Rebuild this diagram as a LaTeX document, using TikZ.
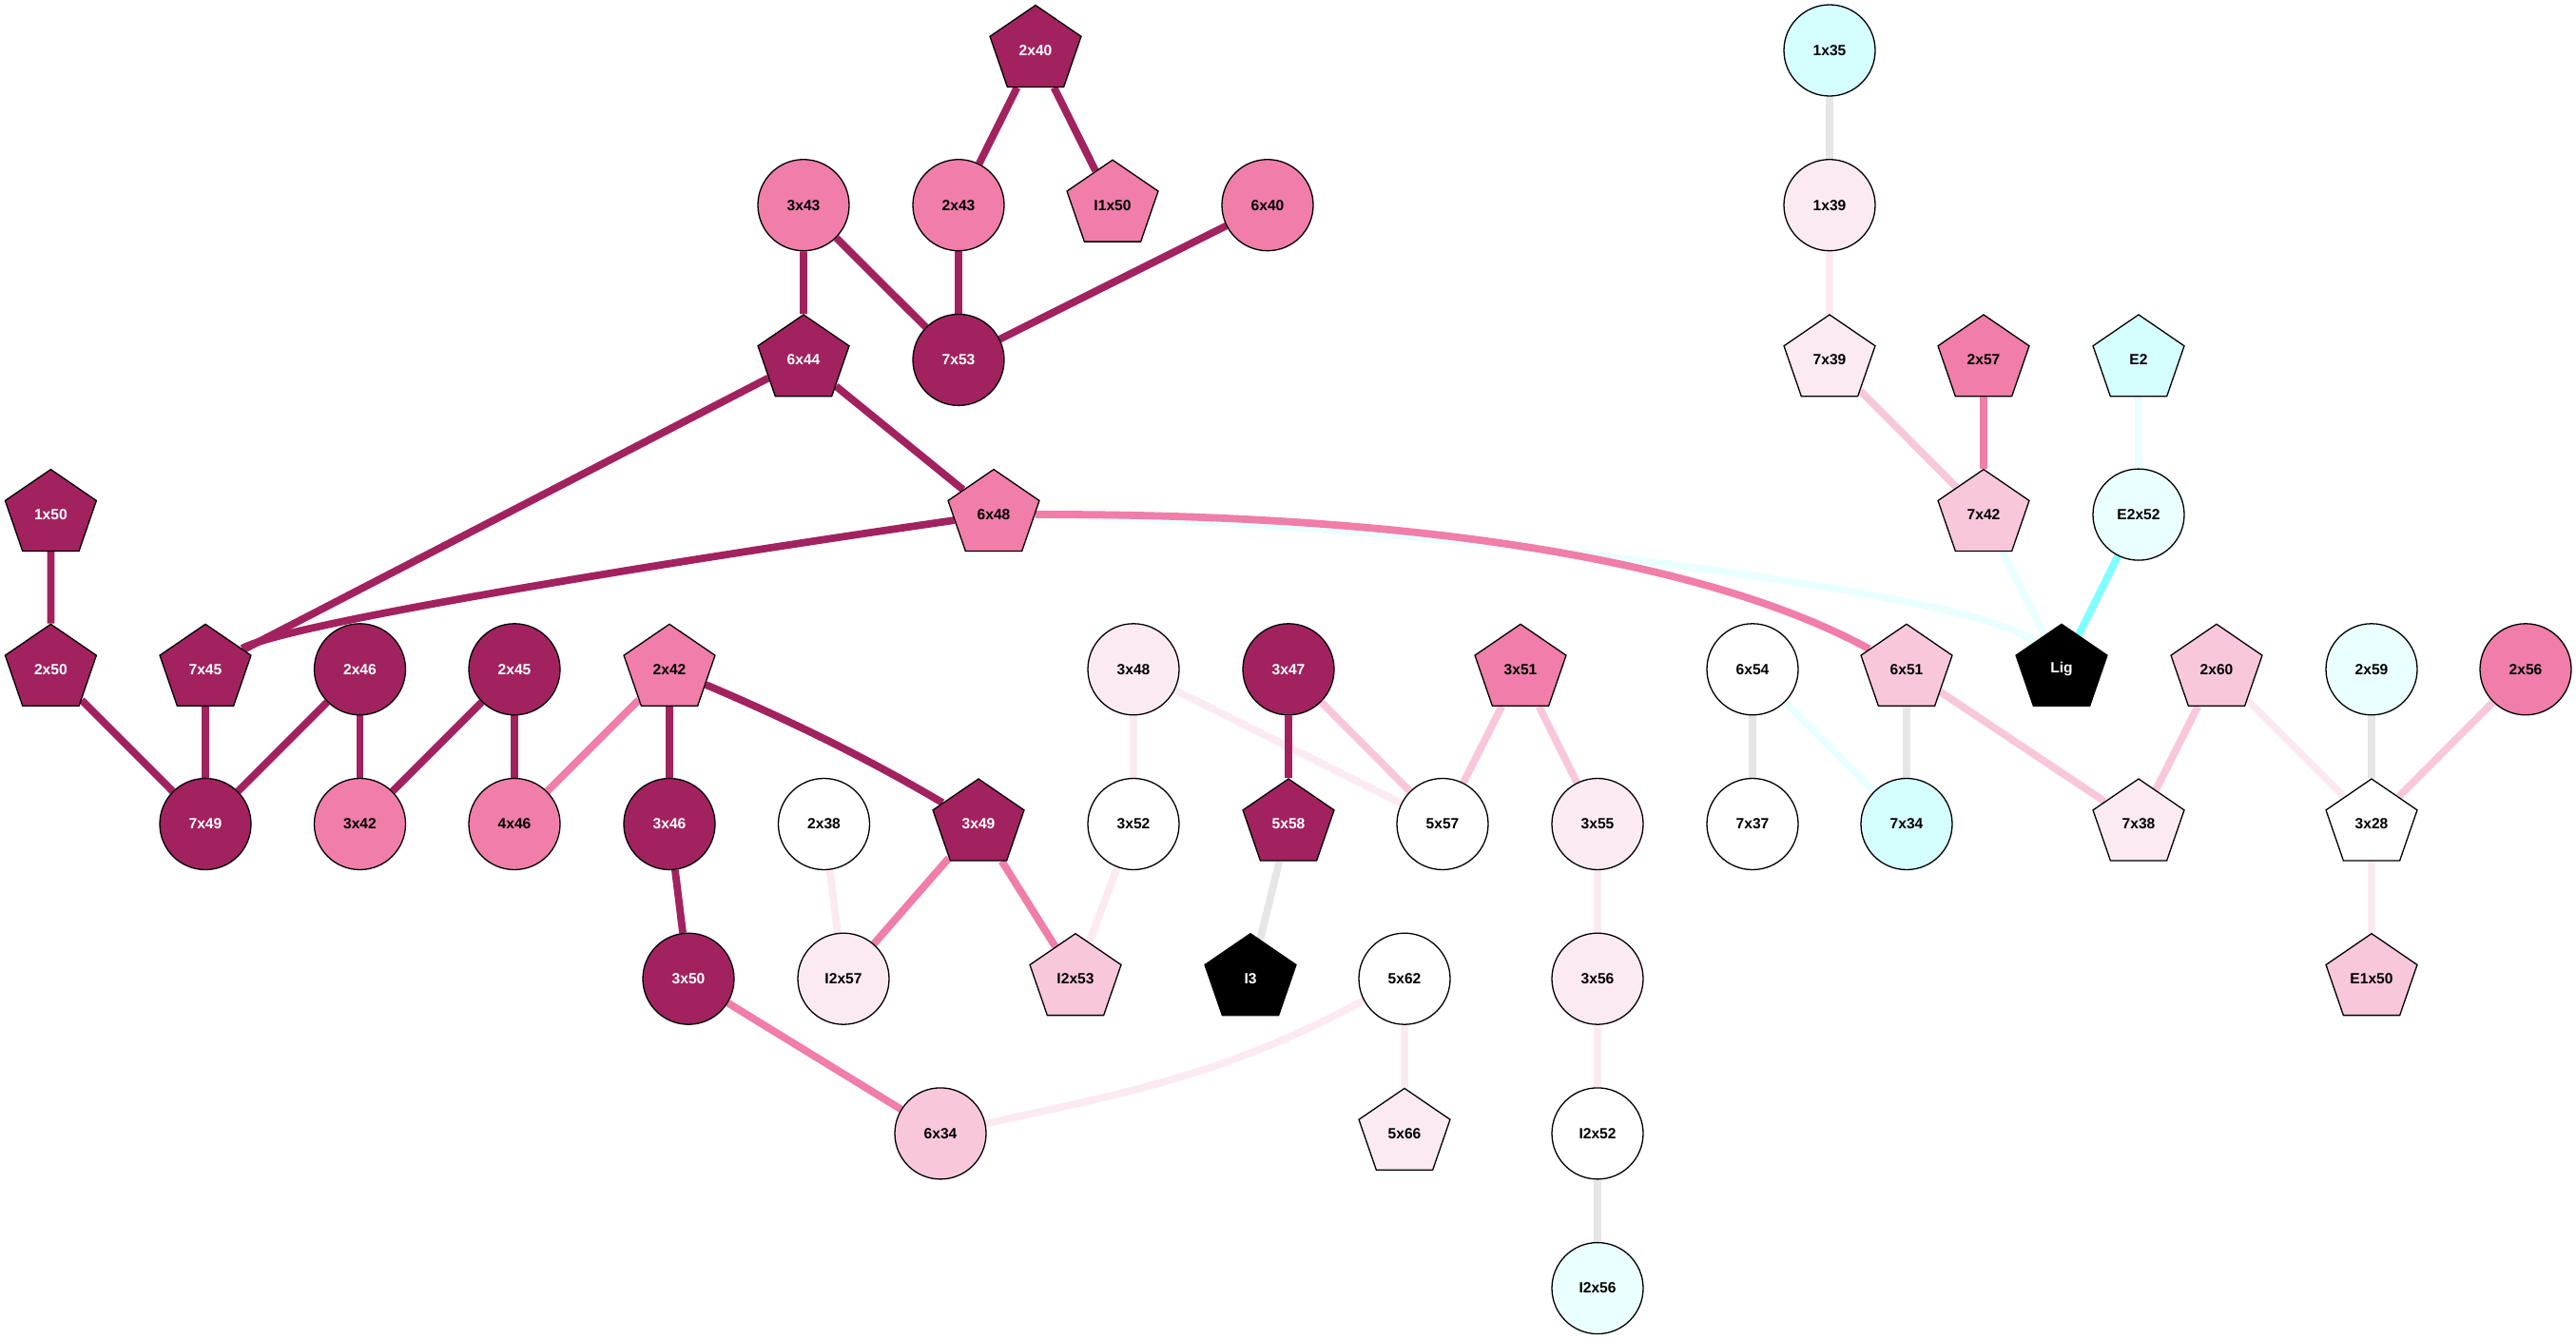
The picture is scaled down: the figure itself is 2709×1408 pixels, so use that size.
\documentclass[tikz,border=0pt]{standalone}
\usepackage{fontspec}
\setmainfont{Liberation Sans}
\usetikzlibrary{shapes.geometric,backgrounds}
\definecolor{cM}{HTML}{A2225F}
\definecolor{cP}{HTML}{F07DAA}
\definecolor{cLP}{HTML}{F9C7DC}
\definecolor{cVLP}{HTML}{FCEAF2}
\definecolor{cC}{HTML}{D5FFFF}
\definecolor{cVLC}{HTML}{EAFFFF}
\definecolor{cBC}{HTML}{80FFFF}
\definecolor{cG}{HTML}{E6E6E6}
\newcommand{\pentxt}[1]{\scalebox{0.9416}[1]{#1}}
\begin{document}
\begin{tikzpicture}[x=1pt,y=-1pt,
  base/.style={draw=black, line width=1.3pt, inner sep=0pt, font=\fontsize{15.6}{18}\selectfont\bfseries},
  circ/.style={base, circle, minimum size=96pt},
  pent/.style={base, regular polygon, regular polygon sides=5, minimum size=95pt, xscale=1.062, transform shape},
  fM/.style={fill=cM, text=white},
  fP/.style={fill=cP, text=black},
  fLP/.style={fill=cLP, text=black},
  fVLP/.style={fill=cVLP, text=black},
  fW/.style={fill=white, text=black},
  fC/.style={fill=cC, text=black},
  fVLC/.style={fill=cVLC, text=black},
  fB/.style={fill=black, text=white},
  e/.style={line width=7.8pt},
  eM/.style={e, draw=cM},
  eP/.style={e, draw=cP},
  eLP/.style={e, draw=cLP},
  eVLP/.style={e, draw=cVLP},
  eG/.style={e, draw=cG},
  eBC/.style={e, draw=cBC},
  eVLC/.style={e, draw=cVLC},
]
\useasboundingbox (0,0) rectangle (2709,1408);
% row 0
\node[pent,fM] (n2x40) at (1089,53) {\pentxt{2x40}};
\node[circ,fC] (n1x35) at (1924,53) {1x35};
% row 1
\node[circ,fP] (n3x43) at (845,215.7) {3x43};
\node[circ,fP] (n2x43) at (1008,215.7) {2x43};
\node[pent,fP] (nI1x50) at (1170,215.7) {\pentxt{I1x50}};
\node[circ,fP] (n6x40) at (1333,215.7) {6x40};
\node[circ,fVLP] (n1x39) at (1924,215.7) {1x39};
% row 2
\node[pent,fM] (n6x44) at (845,378.4) {\pentxt{6x44}};
\node[circ,fM] (n7x53) at (1008,378.4) {7x53};
\node[pent,fVLP] (n7x39) at (1924,378.4) {\pentxt{7x39}};
\node[pent,fP] (n2x57) at (2086,378.4) {\pentxt{2x57}};
\node[pent,fC] (nE2) at (2249,378.4) {\pentxt{E2}};
% row 3
\node[pent,fM] (n1x50) at (53.4,541.1) {\pentxt{1x50}};
\node[pent,fP] (n6x48) at (1045,541.1) {\pentxt{6x48}};
\node[pent,fLP] (n7x42) at (2086,541.1) {\pentxt{7x42}};
\node[circ,fVLC] (nE2x52) at (2249,541.1) {E2x52};
% row 4
\node[pent,fM] (n2x50) at (53.4,703.8) {\pentxt{2x50}};
\node[pent,fM] (n7x45) at (216,703.8) {\pentxt{7x45}};
\node[circ,fM] (n2x46) at (378.5,703.8) {2x46};
\node[circ,fM] (n2x45) at (541,703.8) {2x45};
\node[pent,fP] (n2x42) at (704,703.8) {\pentxt{2x42}};
\node[circ,fVLP] (n3x48) at (1192,703.8) {3x48};
\node[circ,fM] (n3x47) at (1355,703.8) {3x47};
\node[pent,fP] (n3x51) at (1599,703.8) {\pentxt{3x51}};
\node[circ,fW] (n6x54) at (1843,703.8) {6x54};
\node[pent,fLP] (n6x51) at (2005,703.8) {\pentxt{6x51}};
\node[pent,fB] (nLig) at (2168,703.8) {\pentxt{Lig}};
\node[pent,fLP] (n2x60) at (2331,703.8) {\pentxt{2x60}};
\node[circ,fVLC] (n2x59) at (2494,703.8) {2x59};
\node[circ,fP] (n2x56) at (2656,703.8) {2x56};
% row 5
\node[circ,fM] (n7x49) at (216,866.5) {7x49};
\node[circ,fP] (n3x42) at (378.5,866.5) {3x42};
\node[circ,fP] (n4x46) at (541,866.5) {4x46};
\node[circ,fM] (n3x46) at (704,866.5) {3x46};
\node[circ,fW] (n2x38) at (866.5,866.5) {2x38};
\node[pent,fM] (n3x49) at (1029,866.5) {\pentxt{3x49}};
\node[circ,fW] (n3x52) at (1192,866.5) {3x52};
\node[pent,fM] (n5x58) at (1355,866.5) {\pentxt{5x58}};
\node[circ,fW] (n5x57) at (1517,866.5) {5x57};
\node[circ,fVLP] (n3x55) at (1680,866.5) {3x55};
\node[circ,fW] (n7x37) at (1843,866.5) {7x37};
\node[circ,fC] (n7x34) at (2005,866.5) {7x34};
\node[pent,fVLP] (n7x38) at (2249,866.5) {\pentxt{7x38}};
\node[pent,fW] (n3x28) at (2494,866.5) {\pentxt{3x28}};
% row 6
\node[circ,fM] (n3x50) at (724,1029.2) {3x50};
\node[circ,fVLP] (nI2x57) at (887,1029.2) {I2x57};
\node[pent,fLP] (nI2x53) at (1131,1029.2) {\pentxt{I2x53}};
\node[pent,fB] (nI3) at (1315,1029.2) {\pentxt{I3}};
\node[circ,fW] (n5x62) at (1477,1029.2) {5x62};
\node[circ,fVLP] (n3x56) at (1680,1029.2) {3x56};
\node[pent,fLP] (nE1x50) at (2494,1029.2) {\pentxt{E1x50}};
% row 7
\node[circ,fLP] (n6x34) at (989,1191.9) {6x34};
\node[pent,fVLP] (n5x66) at (1477,1191.9) {\pentxt{5x66}};
\node[circ,fW] (nI2x52) at (1680,1191.9) {I2x52};
% row 8
\node[circ,fVLC] (nI2x56) at (1680,1354.6) {I2x56};

\begin{pgfonlayer}{background}
\draw[eVLC] (n6x48) .. controls (1500,550) and (2090,625) .. (nLig);
\draw[eP] (n6x48) .. controls (1500,540) and (1800,592) .. (n6x51);
\draw[eM] (n2x40) -- (n2x43);
\draw[eM] (n2x40) -- (nI1x50);
\draw[eM] (n3x43) -- (n6x44);
\draw[eM] (n3x43) -- (n7x53);
\draw[eM] (n2x43) -- (n7x53);
\draw[eM] (n6x40) -- (n7x53);
\draw[eM] (n6x44) -- (n7x45);
\draw[eM] (n6x44) -- (n6x48);
\draw[eM] (n6x48) .. controls (700,591) and (300,656) .. (n7x45);
\draw[eM] (n1x50) -- (n2x50);
\draw[eM] (n2x50) -- (n7x49);
\draw[eM] (n7x45) -- (n7x49);
\draw[eM] (n2x46) -- (n7x49);
\draw[eM] (n2x46) -- (n3x42);
\draw[eM] (n2x45) -- (n3x42);
\draw[eM] (n2x45) -- (n4x46);
\draw[eP] (n2x42) -- (n4x46);
\draw[eM] (n2x42) -- (n3x46);
\draw[eM] (n2x42) .. controls (826,755.5) and (910,796) .. (n3x49);
\draw[eM] (n3x46) -- (n3x50);
\draw[eP] (n3x50) -- (n6x34);
\draw[eVLP] (n2x38) -- (nI2x57);
\draw[eP] (n3x49) -- (nI2x57);
\draw[eP] (n3x49) -- (nI2x53);
\draw[eVLP] (n3x52) -- (nI2x53);
\draw[eVLP] (n3x48) -- (n3x52);
\draw[eVLP] (n3x48) -- (n5x57);
\draw[eM] (n3x47) -- (n5x58);
\draw[eLP] (n3x47) -- (n5x57);
\draw[eG] (n5x58) -- (nI3);
\draw[eLP] (n3x51) -- (n5x57);
\draw[eLP] (n3x51) -- (n3x55);
\draw[eVLP] (n3x55) -- (n3x56);
\draw[eVLP] (n3x56) -- (nI2x52);
\draw[eG] (nI2x52) -- (nI2x56);
\draw[eVLP] (n6x34) .. controls (1195,1147) and (1290,1129) .. (n5x62);
\draw[eVLP] (n5x62) -- (n5x66);
\draw[eG] (n6x54) -- (n7x37);
\draw[eVLC] (n6x54) -- (n7x34);
\draw[eG] (n6x51) -- (n7x34);
\draw[eLP] (n6x51) -- (n7x38);
\draw[eLP] (n2x60) -- (n7x38);
\draw[eVLP] (n2x60) -- (n3x28);
\draw[eG] (n2x59) -- (n3x28);
\draw[eLP] (n2x56) -- (n3x28);
\draw[eVLP] (n3x28) -- (nE1x50);
\draw[eG] (n1x35) -- (n1x39);
\draw[eVLP] (n1x39) -- (n7x39);
\draw[eLP] (n7x39) -- (n7x42);
\draw[eP] (n2x57) -- (n7x42);
\draw[eVLC] (nE2) -- (nE2x52);
\draw[eBC] (nE2x52) -- (nLig);
\draw[eVLC] (n7x42) -- (nLig);
\end{pgfonlayer}
\end{tikzpicture}
\end{document}
